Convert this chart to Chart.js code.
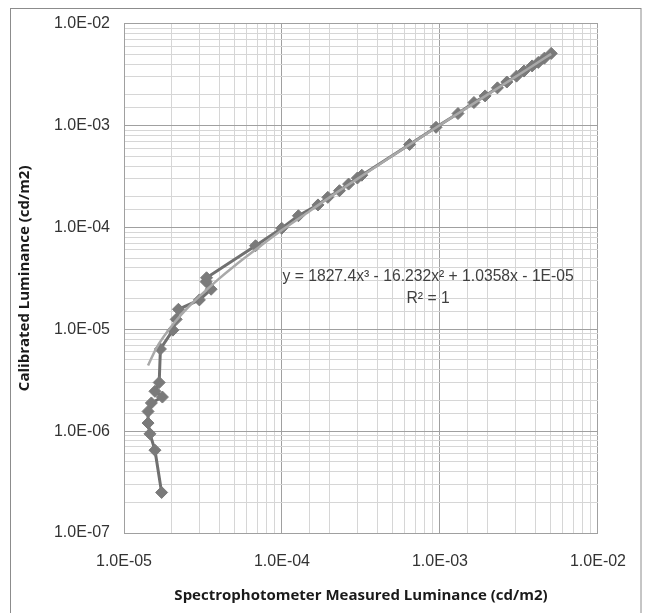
<!DOCTYPE html>
<html>
<head>
<meta charset="utf-8">
<script src="https://cdn.jsdelivr.net/npm/chart.js@4/dist/chart.umd.min.js"></script>
<style>
html,body{margin:0;padding:0;background:#fff;}
#wrap{width:645px;height:613px;position:relative;}
</style>
</head>
<body>
<div id="wrap"><canvas id="c" width="645" height="613"></canvas></div>
<script>
const measuredX = [1.73e-5, 1.57e-5, 1.46e-5, 1.42e-5, 1.42e-5, 1.49e-5, 1.75e-5, 1.57e-5, 1.67e-5, 1.70e-5,
  2.04e-5, 2.14e-5, 2.21e-5, 3.0e-5, 3.56e-5, 3.31e-5, 3.33e-5, 6.8e-5,
  9.96e-5, 1.27e-4, 1.69e-4, 1.95e-4, 2.31e-4, 2.64e-4, 3.0e-4, 3.2e-4, 6.42e-4, 9.44e-4,
  1.30e-3, 1.64e-3, 1.93e-3, 2.31e-3, 2.65e-3, 3.05e-3, 3.40e-3, 3.83e-3, 4.19e-3, 4.58e-3, 5.06e-3];
const calibratedY = [2.5e-7, 6.5e-7, 9.4e-7, 1.2e-6, 1.56e-6, 1.89e-6, 2.16e-6, 2.46e-6, 3.0e-6, 6.4e-6,
  9.8e-6, 1.25e-5, 1.57e-5, 1.94e-5, 2.47e-5, 2.93e-5, 3.2e-5, 6.6e-5,
  9.8e-5, 1.30e-4, 1.66e-4, 1.97e-4, 2.29e-4, 2.66e-4, 3.05e-4, 3.25e-4, 6.5e-4, 9.6e-4,
  1.31e-3, 1.68e-3, 1.95e-3, 2.34e-3, 2.67e-3, 3.05e-3, 3.42e-3, 3.84e-3, 4.16e-3, 4.58e-3, 5.1e-3];

// Trendline
const trendX = [1.42e-5, 1.6e-5, 2e-5, 2.5e-5, 3e-5, 4e-5, 5e-5, 7e-5, 1e-4, 1.5e-4, 2e-4, 3e-4, 5e-4, 1e-3, 2e-3, 3e-3, 4e-3, 5.06e-3];
const trendY = [4.4e-6, 6.5e-6, 1.07e-5, 1.59e-5, 2.1e-5, 3.14e-5, 4.18e-5, 6.24e-5, 9.4e-5, 1.45e-4, 1.97e-4, 2.99e-4, 5.04e-4, 1.01e-3, 2.01e-3, 3.0e-3, 3.99e-3, 5.05e-3];

const equationText = 'y = 1827.4x\u00B3 - 16.232x\u00B2 + 1.0358x - 1E-05';
const r2Text = 'R\u00B2 = 1';
const equationPos = {x: 8.41e-4, y: 3.27e-5};
const r2Pos = {x: 8.41e-4, y: 2.0e-5};

const xTitle = 'Spectrophotometer Measured Luminance (cd/m2)';
const yTitle = 'Calibrated Luminance (cd/m2)';

function isMajor(v){ const l = Math.log10(v); return Math.abs(l - Math.round(l)) < 1e-6; }
function fmt(v){ const e = Math.round(Math.log10(v)); const s = e < 0 ? '-' : '+'; return '1.0E' + s + String(Math.abs(e)).padStart(2,'0'); }

const borderPlugin = {
  id: 'outerBorder',
  beforeDraw(chart){
    const ctx = chart.ctx;
    ctx.save();
    ctx.fillStyle = '#fff';
    ctx.fillRect(0,0,chart.width,chart.height);
    ctx.strokeStyle = '#8c8c8c';
    ctx.lineWidth = 1;
    ctx.strokeRect(10.5, 8.5, chart.width - 4 - 10.5, chart.height + 20);
    ctx.restore();
  }
};
const eqPlugin = {
  id: 'equation',
  afterDatasetsDraw(chart){
    const ctx = chart.ctx, xs = chart.scales.x, ys = chart.scales.y;
    ctx.save();
    ctx.fillStyle = '#404040';
    ctx.font = '15.7px "Liberation Sans", Arial, sans-serif';
    ctx.textAlign = 'center';
    ctx.textBaseline = 'middle';
    ctx.fillText(equationText, xs.getPixelForValue(equationPos.x), ys.getPixelForValue(equationPos.y));
    ctx.fillText(r2Text, xs.getPixelForValue(r2Pos.x), ys.getPixelForValue(r2Pos.y));
    ctx.restore();
  }
};

const tickFont = {family: '"Liberation Sans", Arial, sans-serif', size: 16};
const titleFont = {family: '"Open Sans", sans-serif', size: 15, weight: 'bold'};
const gridColor = (c) => (c.tick && isMajor(c.tick.value)) ? '#a0a0a0' : '#d6d6d6';

new Chart(document.getElementById('c'), {
  type: 'line',
  data: {
    datasets: [
      {
        label: 'Trend',
        data: trendX.map((x,i)=>({x, y: trendY[i]})),
        borderColor: '#a9a9a9',
        borderWidth: 2.5,
        pointRadius: 0,
        cubicInterpolationMode: 'monotone',
        fill: false
      },
      {
        label: 'Measured',
        data: measuredX.map((x,i)=>({x, y: calibratedY[i]})),
        borderColor: '#707070',
        borderWidth: 3,
        pointStyle: 'rectRot',
        pointRadius: 6,
        pointBackgroundColor: '#7a7a7a',
        pointBorderColor: '#7a7a7a',
        pointBorderWidth: 1,
        tension: 0,
        fill: false
      }
    ]
  },
  options: {
    responsive: false,
    animation: false,
    devicePixelRatio: 1,
    layout: {padding: {top: 23, right: 43, left: 0, bottom: 0}},
    plugins: {legend: {display: false}, tooltip: {enabled: false}},
    scales: {
      x: {
        type: 'logarithmic',
        min: 1e-5, max: 1e-2,
        afterFit(s){ s.height = 80; },
        grid: {color: gridColor, drawTicks: false, lineWidth: 1},
        border: {color: '#a0a0a0'},
        ticks: {autoSkip: false, maxRotation: 0, padding: 19, color: '#333', font: tickFont,
          callback: (v) => isMajor(v) ? fmt(v) : ''},
        title: {display: true, text: xTitle, color: '#1a1a1a', font: titleFont, padding: {top: 0, bottom: 8}}
      },
      y: {
        type: 'logarithmic',
        min: 1e-7, max: 1e-2,
        afterFit(s){ s.width = 124; },
        grid: {color: gridColor, drawTicks: false, lineWidth: 1},
        border: {color: '#a0a0a0'},
        ticks: {autoSkip: false, padding: 14, color: '#333', font: tickFont,
          callback: (v) => isMajor(v) ? fmt(v) : ''},
        title: {display: true, text: yTitle, color: '#1a1a1a', font: titleFont, padding: {top: 16, bottom: 0}}
      }
    }
  },
  plugins: [borderPlugin, eqPlugin]
});
</script>
</body>
</html>
